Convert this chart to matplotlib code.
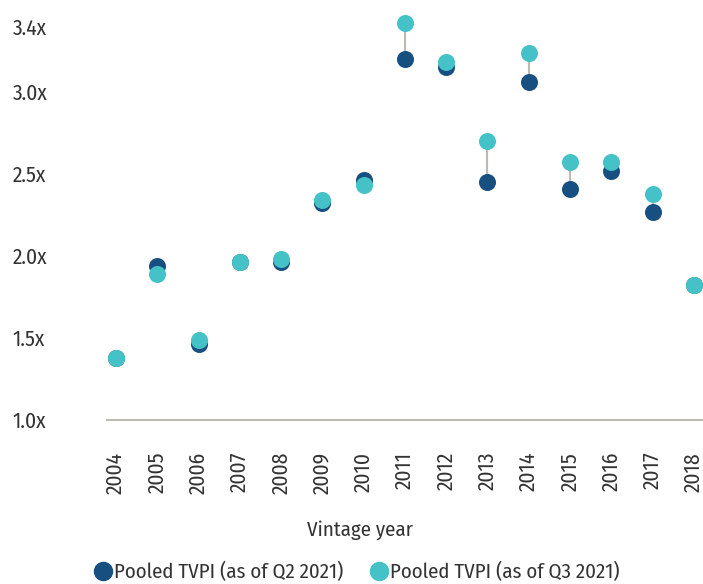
import matplotlib
matplotlib.use('Agg')
import matplotlib.pyplot as plt
from matplotlib.lines import Line2D

plt.rcParams['font.family'] = ['Fira Sans Condensed', 'Liberation Sans', 'DejaVu Sans']

years = [2004, 2005, 2006, 2007, 2008, 2009, 2010, 2011, 2012, 2013, 2014, 2015, 2016, 2017, 2018]
tvpi_q2 = [1.38, 1.94, 1.46, 1.96, 1.96, 2.32, 2.46, 3.20, 3.15, 2.45, 3.06, 2.41, 2.52, 2.27, 1.82]
tvpi_q3 = [1.38, 1.89, 1.49, 1.96, 1.98, 2.34, 2.43, 3.42, 3.18, 2.70, 3.24, 2.57, 2.57, 2.38, 1.82]
yticks = [1.0, 1.5, 2.0, 2.5, 3.0, 3.4]
ytick_labels = ['1.0x', '1.5x', '2.0x', '2.5x', '3.0x', '3.4x']

dark = '#174f80'
teal = '#44c2c8'
grey = '#bdb9b3'
text_c = '#333333'

fig = plt.figure(figsize=(7.03, 5.84), dpi=100)
ax = fig.add_axes([0.152, 0.281, 0.848, 0.674])

ax.vlines(years, tvpi_q2, tvpi_q3, color=grey, lw=1.5, zorder=1)
ax.scatter(years, tvpi_q2, s=150, color=dark, zorder=2, clip_on=False, linewidths=0)
ax.scatter(years, tvpi_q3, s=150, color=teal, zorder=3, clip_on=False, linewidths=0)

ax.set_xlim(2003.78, 2018.22)
ax.set_ylim(1.0, 3.4)
ax.set_yticks(yticks)
ax.set_yticklabels(ytick_labels)
ax.set_xticks(years)
ax.set_xticklabels([str(y) for y in years], rotation=90)
ax.tick_params(length=0, labelsize=15.5, colors=text_c)
ax.tick_params(axis='y', pad=68)
for lbl in ax.get_yticklabels():
    lbl.set_horizontalalignment('left')
ax.tick_params(axis='x', pad=23)

for s in ['top', 'right', 'left']:
    ax.spines[s].set_visible(False)
ax.spines['bottom'].set_color(grey)
ax.spines['bottom'].set_linewidth(1.5)

ax.set_xlabel('Vintage year', fontsize=15, color=text_c)
ax.xaxis.set_label_coords(0.425, -0.255)

handles = [
    Line2D([], [], marker='o', ls='', color=dark, markersize=13),
    Line2D([], [], marker='o', ls='', color=teal, markersize=13),
]
fig.legend(handles, ['Pooled TVPI (as of Q2 2021)', 'Pooled TVPI (as of Q3 2021)'],
           loc='center', bbox_to_anchor=(0.499, 0.02), ncol=2, frameon=False,
           fontsize=15, handletextpad=-0.45, columnspacing=0.7, labelcolor=text_c)

fig.savefig('out.png', dpi=100)
